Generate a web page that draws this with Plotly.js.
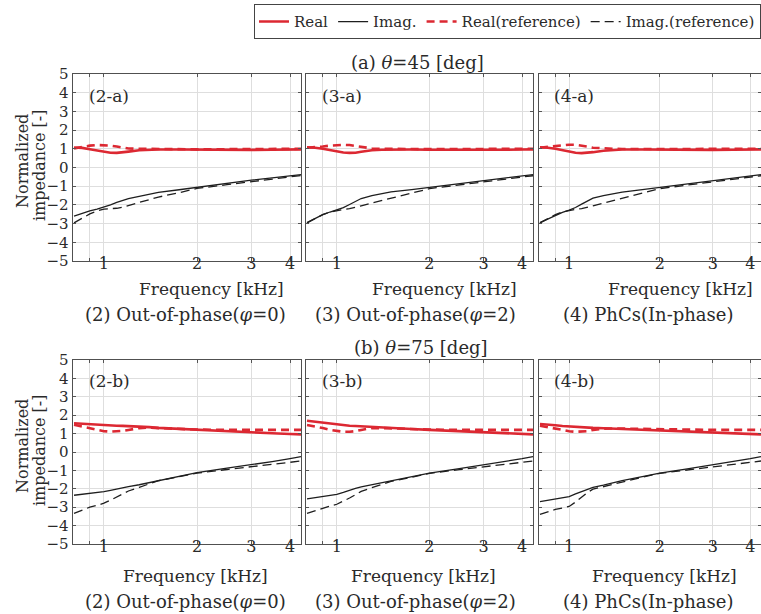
<!DOCTYPE html>
<html><head><meta charset="utf-8">
<script src="https://cdn.plot.ly/plotly-3.0.1.min.js"></script>
<style>html,body{margin:0;padding:0;background:#fff}#chart{width:761px;height:614px}</style>
</head><body><div id="chart"></div><script>
// Frequency [kHz]
const freq = [0.8, 0.85, 0.9, 0.95, 1.0, 1.05, 1.1, 1.15, 1.2, 1.3, 1.4, 1.5, 1.75, 2.0, 2.5, 3.0, 3.5, 4.0, 4.34];

// (2-a)
const real2a    = [1.07, 1.05, 0.98, 0.90, 0.83, 0.79, 0.78, 0.80, 0.85, 0.92, 0.95, 0.96, 0.96, 0.95, 0.94, 0.94, 0.95, 0.96, 0.97];
const imag2a    = [-2.60, -2.45, -2.32, -2.22, -2.12, -2.00, -1.87, -1.76, -1.67, -1.55, -1.44, -1.33, -1.19, -1.06, -0.86, -0.68, -0.56, -0.45, -0.38];
const realRef2a = [1.02, 1.10, 1.17, 1.20, 1.20, 1.17, 1.12, 1.06, 1.02, 1.00, 0.99, 0.98, 0.97, 0.97, 0.98, 0.99, 1.00, 1.00, 1.00];
const imagRef2a = [-2.96, -2.70, -2.48, -2.32, -2.23, -2.20, -2.18, -2.12, -2.03, -1.88, -1.72, -1.58, -1.35, -1.12, -0.92, -0.76, -0.62, -0.50, -0.43];
// (3-a)
const real3a    = [1.08, 1.06, 1.00, 0.92, 0.85, 0.80, 0.78, 0.79, 0.84, 0.92, 0.95, 0.96, 0.96, 0.95, 0.94, 0.94, 0.95, 0.96, 0.97];
const imag3a    = [-2.95, -2.72, -2.52, -2.38, -2.28, -2.15, -1.98, -1.80, -1.66, -1.50, -1.40, -1.30, -1.18, -1.06, -0.86, -0.70, -0.56, -0.45, -0.38];
const realRef3a = [1.06, 1.08, 1.12, 1.17, 1.20, 1.21, 1.20, 1.15, 1.08, 1.02, 1.00, 0.99, 0.98, 0.98, 0.99, 1.00, 1.00, 1.00, 1.00];
const imagRef3a = [-2.96, -2.72, -2.52, -2.38, -2.30, -2.24, -2.20, -2.14, -2.05, -1.90, -1.76, -1.63, -1.37, -1.13, -0.93, -0.76, -0.62, -0.50, -0.44];
// (4-a)
const real4a    = [1.08, 1.06, 1.00, 0.92, 0.84, 0.79, 0.77, 0.78, 0.82, 0.90, 0.94, 0.96, 0.96, 0.95, 0.94, 0.94, 0.95, 0.96, 0.97];
const imag4a    = [-2.95, -2.75, -2.55, -2.40, -2.28, -2.14, -1.96, -1.78, -1.64, -1.50, -1.40, -1.32, -1.18, -1.06, -0.86, -0.70, -0.56, -0.45, -0.38];
const realRef4a = [1.06, 1.10, 1.16, 1.20, 1.22, 1.21, 1.18, 1.12, 1.06, 1.01, 1.00, 0.99, 0.98, 0.98, 0.99, 1.00, 1.00, 1.00, 1.00];
const imagRef4a = [-2.96, -2.72, -2.52, -2.38, -2.30, -2.24, -2.20, -2.14, -2.05, -1.90, -1.76, -1.63, -1.37, -1.13, -0.93, -0.76, -0.62, -0.50, -0.44];
// (2-b)
const real2b    = [1.56, 1.53, 1.50, 1.48, 1.47, 1.45, 1.43, 1.42, 1.41, 1.39, 1.35, 1.31, 1.25, 1.20, 1.13, 1.07, 1.02, 0.98, 0.96];
const imag2b    = [-2.35, -2.30, -2.24, -2.20, -2.15, -2.08, -2.00, -1.94, -1.88, -1.78, -1.66, -1.55, -1.32, -1.12, -0.88, -0.70, -0.52, -0.36, -0.25];
const realRef2b = [1.48, 1.38, 1.27, 1.18, 1.13, 1.11, 1.12, 1.15, 1.20, 1.30, 1.32, 1.30, 1.25, 1.22, 1.20, 1.20, 1.20, 1.20, 1.20];
const imagRef2b = [-3.33, -3.15, -3.00, -2.90, -2.78, -2.62, -2.45, -2.28, -2.12, -1.92, -1.74, -1.56, -1.34, -1.15, -0.95, -0.80, -0.66, -0.55, -0.49];
// (3-b)
const real3b    = [1.70, 1.65, 1.58, 1.52, 1.48, 1.45, 1.43, 1.41, 1.39, 1.37, 1.34, 1.31, 1.25, 1.20, 1.13, 1.07, 1.02, 0.98, 0.96];
const imag3b    = [-2.55, -2.48, -2.40, -2.35, -2.30, -2.20, -2.08, -1.98, -1.90, -1.78, -1.66, -1.56, -1.34, -1.15, -0.90, -0.70, -0.52, -0.36, -0.25];
const realRef3b = [1.47, 1.40, 1.30, 1.20, 1.13, 1.10, 1.10, 1.13, 1.20, 1.30, 1.30, 1.28, 1.24, 1.22, 1.20, 1.20, 1.20, 1.20, 1.20];
const imagRef3b = [-3.33, -3.18, -3.04, -2.94, -2.84, -2.68, -2.50, -2.32, -2.14, -1.94, -1.76, -1.60, -1.37, -1.16, -0.96, -0.80, -0.66, -0.55, -0.49];
// (4-b)
const real4b    = [1.52, 1.50, 1.45, 1.41, 1.38, 1.36, 1.34, 1.33, 1.31, 1.29, 1.27, 1.25, 1.22, 1.20, 1.13, 1.07, 1.02, 0.98, 0.96];
const imag4b    = [-2.70, -2.62, -2.54, -2.48, -2.42, -2.28, -2.14, -2.02, -1.92, -1.80, -1.66, -1.56, -1.34, -1.15, -0.90, -0.70, -0.52, -0.36, -0.25];
const realRef4b = [1.43, 1.35, 1.26, 1.18, 1.13, 1.10, 1.10, 1.13, 1.20, 1.27, 1.28, 1.27, 1.24, 1.22, 1.20, 1.20, 1.20, 1.20, 1.20];
const imagRef4b = [-3.39, -3.25, -3.12, -3.04, -2.96, -2.72, -2.45, -2.20, -2.02, -1.88, -1.74, -1.60, -1.37, -1.16, -0.96, -0.80, -0.66, -0.55, -0.49];

const panelLabels = ['(2-a)', '(3-a)', '(4-a)', '(2-b)', '(3-b)', '(4-b)'];
const subTitles = ['(2) Out-of-phase(<i>φ</i>=0)', '(3) Out-of-phase(<i>φ</i>=2)', '(4) PhCs(In-phase)'];
const rowTitles = ['(a) <i>θ</i>=45 [deg]', '(b) <i>θ</i>=75 [deg]'];
const xTitle = 'Frequency [kHz]';
const yTitleLines = ['Normalized', 'impedance [-]'];
const seriesNames = ['Real', 'Imag.', 'Real(reference)', 'Imag.(reference)'];
const xTickVals = [0.9, 1, 2, 3, 4];
const xTickText = ['', '1', '2', '3', '4'];

const panelData = [
  [real2a, imag2a, realRef2a, imagRef2a],
  [real3a, imag3a, realRef3a, imagRef3a],
  [real4a, imag4a, realRef4a, imagRef4a],
  [real2b, imag2b, realRef2b, imagRef2b],
  [real3b, imag3b, realRef3b, imagRef3b],
  [real4b, imag4b, realRef4b, imagRef4b]
];

const FONT = 'DejaVu Serif';
const TXT = '#2a2a2a';
const RED = '#dc2832';
const BLK = '#1e1e1e';
const styles = [
  {color: RED, width: 2.6, dash: 'solid'},
  {color: BLK, width: 1.3, dash: 'solid'},
  {color: RED, width: 2.6, dash: '8px,5px'},
  {color: BLK, width: 1.3, dash: '9px,5px'}
];

const W = 761, H = 614;
const colDom = [[73 / W, 301 / W], [306 / W, 533 / W], [539 / W, 1]];
const rowDom = [[1 - 261 / H, 1 - 74 / H], [1 - 544 / H, 1 - 360 / H]];
// label placement (pixels from top-left)
const xTitlePos = [[211, 289], [444, 289], [680, 289], [195, 576], [423, 576], [664, 576]];
const subTitlePos = [[185, 314], [415, 314], [648, 314], [185, 601], [415, 601], [648, 601]];
const yTitlePos = [[[22, 161], [39, 165]], [[22, 446], [39, 450]]];
const rowTitlePos = [[417, 62], [421, 347]];

const traces = [];
const layout = {
  width: W, height: H,
  margin: {l: 0, r: 0, t: 0, b: 0},
  paper_bgcolor: '#fff', plot_bgcolor: '#fff',
  font: {family: FONT, color: TXT, size: 16},
  showlegend: true,
  legend: {
    orientation: 'h', x: 1, xanchor: 'right', y: 0.993, yanchor: 'top',
    bordercolor: '#444', borderwidth: 1, bgcolor: '#fff',
    font: {family: FONT, size: 15, color: TXT},
    itemwidth: 30, tracegroupgap: 0
  },
  annotations: []
};

const ann = (text, px, py, size, extra) => Object.assign({
  text: text, xref: 'paper', yref: 'paper', x: px / W, y: 1 - py / H,
  xanchor: 'center', yanchor: 'middle', showarrow: false,
  font: {family: FONT, size: size, color: TXT}
}, extra || {});

for (let p = 0; p < 6; p++) {
  const row = Math.floor(p / 3), col = p % 3;
  const sfx = p === 0 ? '' : String(p + 1);
  const xa = 'x' + sfx, ya = 'y' + sfx;
  panelData[p].forEach((vals, s) => {
    traces.push({
      type: 'scatter', mode: 'lines', x: freq, y: vals,
      xaxis: xa, yaxis: ya, name: seriesNames[s],
      legendgroup: seriesNames[s], showlegend: p === 0,
      line: {color: styles[s].color, width: styles[s].width, dash: styles[s].dash},
      hoverinfo: 'skip'
    });
  });
  layout['xaxis' + sfx] = {
    type: 'log', domain: colDom[col], anchor: ya,
    range: [Math.log10(0.794), Math.log10(4.34)],
    tickmode: 'array', tickvals: xTickVals, ticktext: xTickText,
    ticks: 'inside', ticklen: 3, tickcolor: '#555', ticklabelstandoff: -13,
    showgrid: true, gridcolor: '#dedede', gridwidth: 1,
    showline: true, linecolor: '#505050', linewidth: 1.4, mirror: 'ticks',
    zeroline: false, tickfont: {family: FONT, size: 16, color: TXT}
  };
  layout['yaxis' + sfx] = {
    domain: rowDom[row], anchor: xa, range: [-5, 5],
    tickmode: 'linear', tick0: 0, dtick: 1,
    ticks: 'inside', ticklen: 3, tickcolor: '#555',
    showticklabels: col === 0,
    showgrid: true, gridcolor: '#dedede', gridwidth: 1,
    showline: true, linecolor: '#505050', linewidth: 1.4, mirror: 'ticks',
    zeroline: false, tickfont: {family: FONT, size: 15, color: TXT}
  };
  layout.annotations.push({
    text: panelLabels[p], xref: xa + ' domain', yref: ya + ' domain',
    x: 0.06, y: 0.885, xanchor: 'left', yanchor: 'middle', showarrow: false,
    font: {family: FONT, size: 17, color: TXT}
  });
  layout.annotations.push(ann(xTitle, xTitlePos[p][0], xTitlePos[p][1], 17));
  layout.annotations.push(ann(subTitles[col], subTitlePos[p][0], subTitlePos[p][1], 18));
}
for (let r = 0; r < 2; r++) {
  layout.annotations.push(ann(rowTitles[r], rowTitlePos[r][0], rowTitlePos[r][1], 18));
  yTitleLines.forEach((t, i) => {
    layout.annotations.push(ann(t, yTitlePos[r][i][0], yTitlePos[r][i][1], 16, {textangle: -90}));
  });
}

Plotly.newPlot('chart', traces, layout, {staticPlot: true, displayModeBar: false});
</script></body></html>
